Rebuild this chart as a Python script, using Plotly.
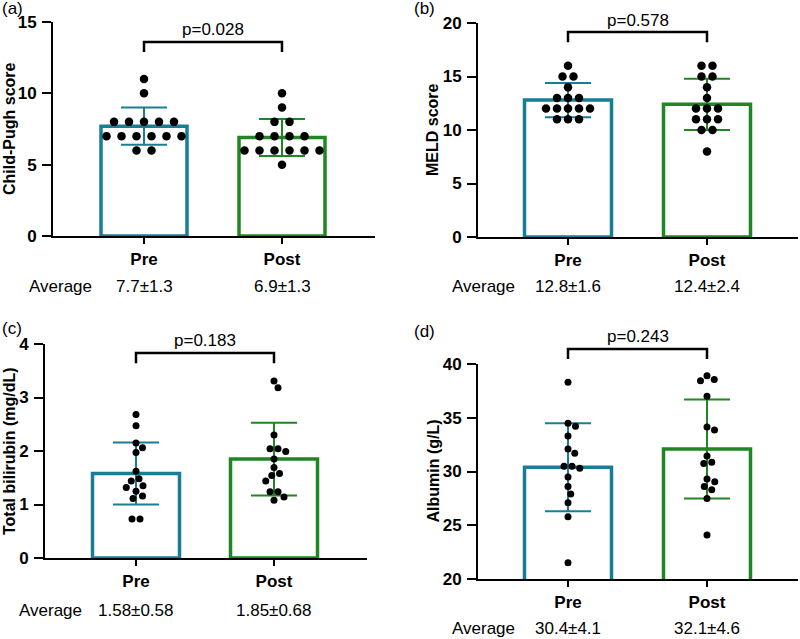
import plotly.graph_objects as go

# ---------------- data ----------------
groups = ["Pre", "Post"]

cp_pre = [11, 10, 8, 8, 8, 8, 8, 7, 7, 7, 7, 7, 7, 6, 6]
cp_post = [10, 9, 8, 8, 7, 7, 7, 7, 6, 6, 6, 6, 6, 6, 5]
cp_mean = [7.7, 6.9]
cp_sd = [1.3, 1.3]
cp_p = "p=0.028"

meld_pre = [16, 15, 15, 14, 13, 13, 13, 12, 12, 12, 12, 12, 11, 11, 11]
meld_post = [16, 16, 15, 15, 14, 13, 12, 12, 12, 11, 11, 11, 10, 10, 8]
meld_mean = [12.8, 12.4]
meld_sd = [1.6, 2.4]
meld_p = "p=0.578"

tb_pre = [2.68, 2.47, 2.15, 2.06, 1.97, 1.62, 1.48, 1.44, 1.35, 1.32, 1.25, 1.16, 1.11, 0.73, 0.73]
tb_post = [3.31, 3.18, 2.30, 2.04, 2.04, 1.99, 1.85, 1.69, 1.58, 1.54, 1.44, 1.24, 1.24, 1.14, 1.08]
tb_mean = [1.58, 1.85]
tb_sd = [0.58, 0.68]
tb_p = "p=0.183"

alb_pre = [38.3, 34.5, 34.2, 33.3, 32.1, 31.7, 30.5, 30.5, 30.3, 29.5, 28.6, 27.9, 27.1, 25.8, 21.5]
alb_post = [38.9, 38.55, 38.45, 37.0, 34.15, 33.85, 31.45, 30.85, 30.75, 29.3, 29.05, 28.6, 28.3, 27.5, 24.1]
alb_mean = [30.4, 32.1]
alb_sd = [4.1, 4.6]
alb_p = "p=0.243"

# ---------------- style / layout ----------------
W, H = 800, 639
FONT = "Arial, Liberation Sans, sans-serif"
FS = 17
C_PRE = "#197D96"
C_POST = "#1E8723"
colors = [C_PRE, C_POST]

panels = [
    dict(tag="(a)", ytitle="Child-Pugh score", pts=[cp_pre, cp_post], mean=cp_mean, sd=cp_sd, p=cp_p,
         yr=[0, 15], yt=[0, 5, 10, 15], dec=1,
         L=53, R=375, T=22, B=236, c0=144, c1=282, barw=86, ms=8.5, s=15, D=10,
         br=(12.9, 13.6, 14.5), tagxy=(0, 9), titx=9, avg=(27, 286)),
    dict(tag="(b)", ytitle="MELD score", pts=[meld_pre, meld_post], mean=meld_mean, sd=meld_sd, p=meld_p,
         yr=[0, 20], yt=[0, 5, 10, 15, 20], dec=1,
         L=478, R=798, T=23, B=237, c0=568, c1=707, barw=87, ms=8.5, s=11, D=10,
         br=(18.2, 19.15, 20.25), tagxy=(412, 9), titx=432, avg=(450, 286)),
    dict(tag="(c)", ytitle="Total bilirubin (mg/dL)", pts=[tb_pre, tb_post], mean=tb_mean, sd=tb_sd, p=tb_p,
         yr=[0, 4], yt=[0, 1, 2, 3, 4], dec=2,
         L=45, R=367, T=344, B=558, c0=136, c1=274, barw=87, ms=7, s=8, D=8,
         br=(3.64, 3.83, 4.07), tagxy=(0, 328), titx=9, avg=(17, 610)),
    dict(tag="(d)", ytitle="Albumin (g/L)", pts=[alb_pre, alb_post], mean=alb_mean, sd=alb_sd, p=alb_p,
         yr=[20, 40], yt=[20, 25, 30, 35, 40], dec=1,
         L=478, R=798, T=364, B=579, c0=568, c1=707, barw=87, ms=7, s=8, D=8,
         br=(40.47, 41.4, 42.58), tagxy=(412, 331), titx=433, avg=(450, 628)),
]


def swarm(values, px_per_y, s, D):
    """Deterministic beeswarm: identical values spread symmetrically, groups nudged to avoid overlap."""
    out = [0.0] * len(values)
    placed = []
    for v in sorted(set(values), reverse=True):
        idxs = [i for i, val in enumerate(values) if val == v]
        n = len(idxs)
        base = [(k - (n - 1) / 2) * s for k in range(n)]
        y = v * px_per_y
        chosen = 0.0
        for step in range(0, 800):
            done = False
            for c in ((step * 0.25, -step * 0.25) if step else (0.0,)):
                ok = all((b + c - px) ** 2 + (y - py) ** 2 >= D * D - 1e-6
                         for b in base for (px, py) in placed)
                if ok:
                    chosen = c
                    done = True
                    break
            if done:
                break
        for k, i in enumerate(idxs):
            out[i] = base[k] + chosen
            placed.append((base[k] + chosen, y))
    return out


fig = go.Figure()
layout = dict(width=W, height=H, margin=dict(l=0, r=0, t=0, b=0, pad=0, autoexpand=False),
              paper_bgcolor="white", plot_bgcolor="white", showlegend=False,
              barmode="overlay", font=dict(family=FONT, color="black", size=FS))
annotations = []
shapes = []

for k, P in enumerate(panels):
    sfx = "" if k == 0 else str(k + 1)
    xa, ya = "x" + sfx, "y" + sfx
    scale = P["c1"] - P["c0"]
    xr = [-(P["c0"] - P["L"]) / scale, 1 + (P["R"] - P["c1"]) / scale]
    px_per_y = (P["B"] - P["T"]) / (P["yr"][1] - P["yr"][0])

    def to_paper(v, P=P, px_per_y=px_per_y):
        return 1 - (P["B"] - (v - P["yr"][0]) * px_per_y) / H

    layout["xaxis" + sfx] = dict(
        domain=[P["L"] / W, P["R"] / W], range=xr, anchor=ya, automargin=False,
        tickvals=[0, 1], ticktext=groups, tickfont=dict(size=FS, weight="bold", family=FONT),
        showline=True, linecolor="black", linewidth=2, ticks="outside", ticklen=6, tickwidth=2,
        tickcolor="black", showgrid=False, zeroline=False, ticklabelstandoff=1, fixedrange=True)
    layout["yaxis" + sfx] = dict(
        domain=[1 - P["B"] / H, 1 - P["T"] / H], range=P["yr"], anchor=xa, automargin=False,
        tickvals=P["yt"], tickfont=dict(size=FS, weight="bold", family=FONT),
        showline=True, linecolor="black", linewidth=2, ticks="outside", ticklen=9, tickwidth=2,
        tickcolor="black", showgrid=False, zeroline=False, ticklabelstandoff=2, fixedrange=True)

    for g in range(2):
        fig.add_trace(go.Bar(
            x=[g], y=[P["mean"][g]], width=P["barw"] / scale, xaxis=xa, yaxis=ya,
            marker=dict(color="rgba(255,255,255,0)", line=dict(color=colors[g], width=3.5)),
            error_y=dict(type="data", array=[P["sd"][g]], color=colors[g], thickness=2, width=23),
            hoverinfo="skip"))
    for g in range(2):
        vals = P["pts"][g]
        offs = swarm(vals, px_per_y, P["s"], P["D"])
        fig.add_trace(go.Scatter(
            x=[g + o / scale for o in offs], y=vals, mode="markers", xaxis=xa, yaxis=ya,
            marker=dict(color="black", size=P["ms"], line=dict(width=0)), cliponaxis=False,
            hoverinfo="skip"))

    lo, top, ty = P["br"]
    plo, ptop = to_paper(lo), to_paper(top)
    shapes.append(dict(type="path", xref=xa, yref="paper",
                       path=f"M 0,{plo} L 0,{ptop} L 1,{ptop} L 1,{plo}",
                       line=dict(color="black", width=2.5)))
    annotations.append(dict(x=0.5, y=to_paper(ty), xref=xa, yref="paper", text=P["p"], showarrow=False,
                            font=dict(size=FS), xanchor="center", yanchor="middle"))
    # panel tag
    annotations.append(dict(x=P["tagxy"][0] / W, y=1 - P["tagxy"][1] / H, xref="paper", yref="paper",
                            text=P["tag"], showarrow=False, font=dict(size=FS),
                            xanchor="left", yanchor="middle"))
    # y title
    annotations.append(dict(x=P["titx"] / W, y=1 - (P["T"] + P["B"]) / 2 / H, xref="paper", yref="paper",
                            text=P["ytitle"], showarrow=False, textangle=-90,
                            font=dict(size=16, weight="bold"), xanchor="center", yanchor="middle"))
    # averages
    ay = 1 - P["avg"][1] / H
    annotations.append(dict(x=P["avg"][0] / W, y=ay, xref="paper", yref="paper", text="Average",
                            showarrow=False, font=dict(size=FS), xanchor="left", yanchor="middle"))
    for g in range(2):
        txt = f"{P['mean'][g]:.{P['dec']}f}±{P['sd'][g]:.{P['dec']}f}"
        annotations.append(dict(x=g, y=ay, xref=xa, yref="paper", text=txt, showarrow=False,
                                font=dict(size=FS), xanchor="center", yanchor="middle"))

layout["annotations"] = annotations
layout["shapes"] = shapes
fig.update_layout(**layout)
fig.write_html("out.html", config={"displayModeBar": False, "staticPlot": True},
               post_script="document.body.style.margin='0px';document.body.style.overflow='hidden';")
